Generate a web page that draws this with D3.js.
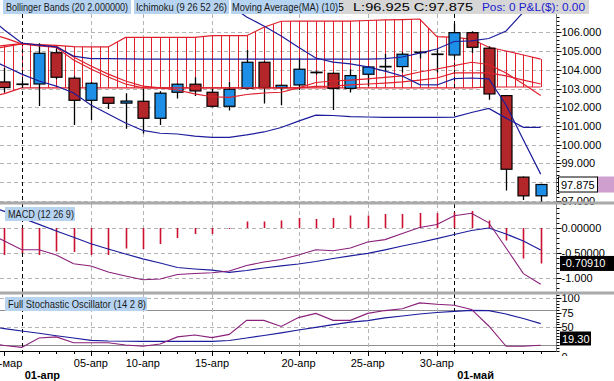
<!DOCTYPE html>
<html><head><meta charset="utf-8">
<script src="https://cdn.jsdelivr.net/npm/d3@7"></script>
<style>
html,body{margin:0;padding:0;background:#fff;overflow:hidden}
svg{display:block;font-family:"Liberation Sans",Arial,sans-serif}
</style></head><body>
<svg id="c" width="614" height="381"></svg>
<script>
// ---------- DATA ----------
const dates = ["28-мар","29-мар","01-апр","02-апр","03-апр","04-апр","05-апр","08-апр","09-апр","10-апр","11-апр","12-апр","14-апр","15-апр","16-апр","17-апр","18-апр","19-апр","20-апр","22-апр","23-апр","24-апр","25-апр","26-апр","28-апр","29-апр","30-апр","01-май","02-май","03-май","05-май","06-май","07-май"];
const openV  = [null,103.35,103.22,103.24,104.91,103.55,102.37,102.53,102.22,102.32,101.41,102.80,103.23,102.80,102.05,103.01,104.40,103.05,103.19,103.86,103.81,103.01,103.76,104.16,104.17,104.92,104.82,104.79,105.98,105.15,102.62,98.27,97.27];
const highV  = [null,104.10,103.40,105.41,105.15,103.65,103.35,102.55,102.75,103.00,102.85,103.25,103.60,103.00,103.35,105.05,104.45,103.20,104.61,103.93,103.85,104.03,104.20,104.84,104.93,105.00,105.10,106.45,106.05,105.25,102.65,98.30,97.92];
const lowV   = [null,102.80,103.05,102.07,103.50,101.05,101.32,101.90,100.85,100.60,101.05,102.46,102.60,102.00,101.82,102.95,102.20,102.10,102.92,103.75,101.85,102.78,103.14,103.90,103.86,104.60,103.85,104.70,104.90,102.40,97.55,97.05,96.925];
const closeV = [null,103.05,103.24,104.88,103.60,102.37,103.28,102.21,102.33,101.41,102.75,103.23,102.87,102.05,102.96,104.40,103.05,103.17,104.03,103.87,103.01,103.69,104.15,104.18,104.83,104.94,104.84,105.98,105.20,102.71,98.69,97.27,97.875];

const bbUpper = [106.92,106.12,105.43,105.32,105.22,104.73,104.60,104.60,104.58,104.57,104.57,104.57,104.57,104.57,104.57,104.57,104.57,104.57,104.57,104.57,104.57,104.57,104.57,104.60,104.68,104.89,105.11,105.51,105.54,105.67,106.07,107.08,107.99];
const bbLower = [104.63,104.20,103.77,103.40,103.13,102.76,102.12,101.64,101.16,100.76,100.61,100.57,100.46,100.39,100.39,100.52,100.68,100.92,101.26,101.58,101.56,101.50,101.48,101.46,101.46,101.46,101.46,101.47,101.72,101.94,101.42,100.93,100.93];
const maLine  = [null,null,null,null,null,null,null,null,null,null,null,null,null,null,107.46,106.82,106.34,105.80,105.20,104.63,104.41,104.31,104.15,103.93,103.67,103.21,103.19,103.53,103.56,103.51,102.12,100.25,98.43];
const spanA   = [105.22,105.30,105.40,105.35,105.30,105.24,105.22,105.22,105.73,105.73,105.73,105.73,105.73,105.82,105.82,105.82,106.27,106.59,106.60,106.60,106.60,106.60,106.63,106.66,106.68,106.71,105.77,105.73,105.64,105.20,105.00,104.79,104.57];
const spanB   = [102.49,102.73,103.03,103.03,103.03,103.03,103.03,103.03,103.03,103.03,103.03,103.03,103.03,103.03,103.03,103.03,103.03,103.03,103.03,103.03,103.03,103.03,103.03,103.03,103.03,103.03,103.03,103.03,103.03,103.08,103.08,103.08,103.08];
const tenkan  = [105.96,105.70,105.38,105.32,105.27,104.68,104.20,103.77,103.40,103.13,103.03,102.92,102.71,102.56,102.53,102.68,102.76,102.80,103.03,103.32,103.40,103.45,103.51,103.59,103.67,103.88,104.04,104.22,104.40,104.28,103.83,103.24,102.62];
const kijun   = [105.05,105.22,105.38,105.27,105.19,104.52,104.04,103.61,103.24,103.03,103.03,103.03,103.03,103.03,103.03,103.03,103.03,103.03,103.03,103.11,103.13,103.19,103.24,103.29,103.35,103.45,103.56,103.83,103.83,103.83,103.67,103.45,103.24];

const macdHist   = [null,-0.54,-0.50,-0.54,-0.47,-0.48,-0.54,-0.54,-0.41,-0.42,-0.32,-0.20,-0.12,-0.12,-0.02,0.13,0.13,0.15,0.20,0.18,0.20,0.25,0.25,0.28,0.28,0.30,0.30,0.31,0.34,0.15,-0.25,-0.61,-0.7091];
const macdLine   = [-0.10,-0.26,-0.436,-0.436,-0.54,-0.716,-0.76,-0.88,-0.96,-1.034,-1.02,-0.93,-0.91,-0.894,-0.86,-0.75,-0.68,-0.63,-0.54,-0.436,-0.456,-0.40,-0.28,-0.232,-0.11,0.01,0.07,0.244,0.294,0.104,-0.40,-0.912,-1.126];
const macdSignal = [0.46,0.332,0.202,0.072,-0.06,-0.186,-0.316,-0.42,-0.52,-0.618,-0.70,-0.79,-0.82,-0.844,-0.886,-0.85,-0.80,-0.756,-0.72,-0.67,-0.61,-0.556,-0.506,-0.436,-0.36,-0.29,-0.212,-0.13,-0.05,0.0,-0.12,-0.26,-0.44];

const stochK = [23.2,18.9,15.7,31.8,33.7,23.5,23.5,23.5,19.7,17.6,21.6,33.7,36.9,32.5,38.0,62.1,62.1,51.7,66.8,74.1,62.1,62.1,74.1,78.9,81.9,92.1,89.7,88.0,80.8,52.4,17.6,17.6,19.3];
const stochD = [52.1,47.9,43.8,39.9,35.7,31.8,27.7,26.6,26.2,26.0,26.0,26.0,26.0,26.0,27.5,31.8,36.1,40.7,45.5,50.2,54.8,59.2,61.5,66.5,69.6,73.0,75.6,77.7,79.1,78.9,73.0,65.3,56.5];

const tickDates  = ["29-мар","05-апр","10-апр","15-апр","20-апр","25-апр","30-апр"];
const monthDates = ["01-апр","01-май"];
const priceTicks = [97,98,99,100,101,102,103,104,105,106];
const priceLabels = ["97.000","","99.000","100.000","101.000","102.000","103.000","104.000","105.000","106.000"];
const macdTicks = [0,-0.5,-1];
const macdLabels = ["0.00000","-0.50000","-1.000"];
const stochTicks = [100,75,50,0];
const stochLabels = ["100","75","50","0"];
const stochDash = [100,50], stochLevels = [80,20];
const lastPrice = "97.875", lastMacd = "-0.70910", lastStoch = "19.30";

// ---------- SETUP ----------
const svg = d3.select("#c");
const W = 614, H = 381, plotR = 556.5;
const BLUE = "#1e8fe6", RED = "#b3262a", NAVY = "#1c1c9c", LRED = "#e0202c", PURP = "#8a1f7a", GRID = "#b4b4b4";

const x = d3.scalePoint().domain(dates).range([-12.9, 540.7]);
const step = x.step();
const yP = d3.scaleLinear().domain([97, 106]).range([200.9, 32.3]);
const yM = d3.scaleLinear().domain([0, -1]).range([228, 278]);
const yS = d3.scaleLinear().domain([0, 100]).range([356.5, 298.3]);

const panels = [
  {id:"pp", y0:14, y1:202},
  {id:"pm", y0:204, y1:292},
  {id:"ps", y0:294, y1:351}
];
const defs = svg.append("defs");
panels.forEach(p => defs.append("clipPath").attr("id", p.id)
  .append("rect").attr("x", 0).attr("y", p.y0).attr("width", plotR).attr("height", p.y1 - p.y0));
defs.append("clipPath").attr("id", "hclip").append("rect").attr("x", 339).attr("y", 0).attr("width", 10).attr("height", 14);
defs.append("clipPath").attr("id", "aclip").append("rect").attr("x", plotR).attr("y", 0).attr("width", 80).attr("height", 356);

svg.append("rect").attr("width", W).attr("height", H).attr("fill", "#fff");

function vgrid(g, y0, y1) {
  g.selectAll(null).data(tickDates.filter(d => d !== "29-мар")).join("line")
    .attr("x1", d => Math.round(x(d)) + 0.5).attr("x2", d => Math.round(x(d)) + 0.5).attr("y1", y0).attr("y2", y1)
    .attr("stroke", GRID).attr("stroke-dasharray", "4,3");
}
function mgrid(g, y0, y1) {
  g.selectAll(null).data(monthDates).join("line")
    .attr("x1", d => Math.round(x(d)) + 0.5).attr("x2", d => Math.round(x(d)) + 0.5).attr("y1", y0).attr("y2", y1)
    .attr("stroke", "#000").attr("stroke-dasharray", "4,3");
}
function hgrid(g, ticks, scale) {
  g.selectAll(null).data(ticks).join("line")
    .attr("x1", 0).attr("x2", plotR).attr("y1", d => Math.round(scale(d)) + 0.5).attr("y2", d => Math.round(scale(d)) + 0.5)
    .attr("stroke", GRID).attr("stroke-dasharray", "4,3");
}
const idx = dates.map((d, i) => i);

// ---------- PRICE PANEL ----------
const gp = svg.append("g").attr("clip-path", "url(#pp)");
hgrid(gp, priceTicks, yP);
vgrid(gp, 14, 202);

const half = [];
for (let i = 0; i < dates.length - 1; i++) {
  half.push({x: x(dates[i]), a: spanA[i], b: spanB[i]});
  half.push({x: x(dates[i]) + step / 2, a: (spanA[i] + spanA[i+1]) / 2, b: (spanB[i] + spanB[i+1]) / 2});
}
half.push({x: x(dates[dates.length-1]), a: spanA[dates.length-1], b: spanB[dates.length-1]});
gp.selectAll(null).data(half).join("line")
  .attr("x1", d => Math.round(d.x) + 0.5).attr("x2", d => Math.round(d.x) + 0.5)
  .attr("y1", d => yP(d.a)).attr("y2", d => yP(d.b))
  .attr("stroke", LRED).attr("stroke-width", 1);
const lineP = arr => d3.line().defined(i => arr[i] != null).x(i => x(dates[i])).y(i => yP(arr[i]));
[spanA, spanB].forEach(a => gp.append("path").attr("d", lineP(a)(idx)).attr("fill", "none").attr("stroke", LRED).attr("stroke-width", 1.2));
mgrid(gp, 14, 202);

const cand = idx.filter(i => openV[i] != null);
gp.selectAll(null).data(cand).join("line")
  .attr("x1", i => Math.round(x(dates[i])) + 0.5).attr("x2", i => Math.round(x(dates[i])) + 0.5)
  .attr("y1", i => yP(highV[i])).attr("y2", i => yP(lowV[i]))
  .attr("stroke", "#000").attr("stroke-width", 1.3);
gp.selectAll(null).data(cand).join("rect")
  .attr("x", i => Math.round(x(dates[i])) - 5)
  .attr("width", 11)
  .attr("y", i => yP(Math.max(openV[i], closeV[i])))
  .attr("height", i => Math.max(0.5, Math.abs(yP(openV[i]) - yP(closeV[i]))))
  .attr("fill", i => closeV[i] >= openV[i] ? BLUE : RED)
  .attr("stroke", "#000").attr("stroke-width", 1.2);

[[tenkan, LRED], [kijun, LRED]].forEach(([a, c]) =>
  gp.append("path").attr("d", lineP(a)(idx)).attr("fill", "none").attr("stroke", c).attr("stroke-width", 1.2));
[[bbUpper, NAVY], [bbLower, NAVY], [maLine, NAVY]].forEach(([a, c]) =>
  gp.append("path").attr("d", lineP(a)(idx)).attr("fill", "none").attr("stroke", c).attr("stroke-width", 1.2));

// ---------- MACD PANEL ----------
const gm = svg.append("g").attr("clip-path", "url(#pm)");
hgrid(gm, macdTicks, yM);
vgrid(gm, 204, 292);
mgrid(gm, 204, 292);
gm.selectAll(null).data(idx.filter(i => macdHist[i] != null)).join("line")
  .attr("x1", i => Math.round(x(dates[i])) + 0.5).attr("x2", i => Math.round(x(dates[i])) + 0.5)
  .attr("y1", yM(0)).attr("y2", i => yM(macdHist[i]))
  .attr("stroke", "#cc1030").attr("stroke-width", 1.6);
const lineM = arr => d3.line().x(i => x(dates[i])).y(i => yM(arr[i]));
gm.append("path").attr("d", lineM(macdSignal)(idx)).attr("fill", "none").attr("stroke", NAVY).attr("stroke-width", 1.2);
gm.append("path").attr("d", lineM(macdLine)(idx)).attr("fill", "none").attr("stroke", PURP).attr("stroke-width", 1.1);

// ---------- STOCH PANEL ----------
const gs = svg.append("g").attr("clip-path", "url(#ps)");
hgrid(gs, stochDash, yS);
stochLevels.forEach(v => gs.append("line").attr("x1", 0).attr("x2", plotR).attr("y1", Math.round(yS(v)) + 0.5).attr("y2", Math.round(yS(v)) + 0.5).attr("stroke", "#909090").attr("stroke-width", 1.2));
vgrid(gs, 294, 351);
mgrid(gs, 294, 351);
const lineS = arr => d3.line().x(i => x(dates[i])).y(i => yS(arr[i]));
gs.append("path").attr("d", lineS(stochD)(idx)).attr("fill", "none").attr("stroke", NAVY).attr("stroke-width", 1.2);
gs.append("path").attr("d", lineS(stochK)(idx)).attr("fill", "none").attr("stroke", PURP).attr("stroke-width", 1.1);

// ---------- RIGHT AXES ----------
const ax = svg.append("g").attr("font-size", 11).attr("fill", "#000").attr("clip-path", "url(#aclip)");
function rAxis(scale, ticks, labels, y0, y1, minorStep) {
  ax.append("line").attr("x1", plotR).attr("x2", plotR).attr("y1", y0).attr("y2", y1).attr("stroke", "#000");
  const vlo = scale.invert(y1), vhi = scale.invert(y0);
  const minors = d3.range(Math.ceil(Math.min(vlo, vhi) / minorStep) * minorStep, Math.max(vlo, vhi), minorStep);
  ax.selectAll(null).data(minors).join("line")
    .attr("x1", plotR).attr("x2", plotR + 3).attr("y1", d => Math.round(scale(d)) + 0.5).attr("y2", d => Math.round(scale(d)) + 0.5)
    .attr("stroke", "#000");
  ax.selectAll(null).data(ticks.filter(t => scale(t) <= y1)).join("line")
    .attr("x1", plotR).attr("x2", plotR + 5).attr("y1", d => Math.round(scale(d)) + 0.5).attr("y2", d => Math.round(scale(d)) + 0.5)
    .attr("stroke", "#000");
  ax.selectAll(null).data(ticks).join("text")
    .attr("x", plotR + 5).attr("y", d => scale(d) + 4).text((d, i) => labels[i]);
}
rAxis(yP, priceTicks, priceLabels, 14, 202, 0.2);
rAxis(yM, macdTicks, macdLabels, 204, 292, 0.1);
rAxis(yS, stochTicks, stochLabels, 294, 351, 5);

// ---------- PANEL SEPARATORS ----------
[203, 293].forEach(yy => svg.append("rect").attr("x", 0).attr("y", yy - 1.5).attr("width", W).attr("height", 3).attr("fill", "#a9a9a9"));

// value boxes
const pb = svg.append("g");
pb.append("rect").attr("x", 597).attr("y", yP(97.875) - 8).attr("width", 17).attr("height", 16).attr("fill", "#cfa0cf");
pb.append("rect").attr("x", 558.5).attr("y", yP(97.875) - 7.5).attr("width", 39).attr("height", 15).attr("fill", "#fff").attr("stroke", "#000");
pb.append("text").attr("x", 561).attr("y", yP(97.875) + 4).attr("font-size", 11).text(lastPrice);
pb.append("rect").attr("x", 560).attr("y", yM(-0.7091) - 7.5).attr("width", 54).attr("height", 15).attr("fill", "#000");
pb.append("text").attr("x", 562).attr("y", yM(-0.7091) + 4).attr("font-size", 11).attr("fill", "#fff").text(lastMacd);
pb.append("rect").attr("x", 560).attr("y", 331.5).attr("width", 31).attr("height", 14).attr("fill", "#000");
pb.append("text").attr("x", 562).attr("y", 342.5).attr("font-size", 11).attr("fill", "#fff").text(lastStoch);

// ---------- X AXIS ----------
const xa = svg.append("g").attr("font-size", 11);
xa.append("line").attr("x1", 0).attr("x2", plotR).attr("y1", 351.5).attr("y2", 351.5).attr("stroke", "#000");
xa.selectAll(null).data(dates).join("line")
  .attr("x1", d => Math.round(x(d)) + 0.5).attr("x2", d => Math.round(x(d)) + 0.5).attr("y1", 351).attr("y2", 354).attr("stroke", "#000");
xa.selectAll(null).data(tickDates).join("line")
  .attr("x1", d => Math.round(x(d)) + 0.5).attr("x2", d => Math.round(x(d)) + 0.5).attr("y1", 351).attr("y2", 356).attr("stroke", "#000");
xa.selectAll(null).data(tickDates).join("text")
  .attr("x", d => x(d)).attr("y", 367).attr("text-anchor", "middle").text(d => d);
xa.selectAll(null).data(monthDates).join("text")
  .attr("x", d => x(d) + 3).attr("y", 379).attr("font-weight", "bold").text(d => d);

// ---------- LABELS ----------
const hd = svg.append("g").attr("font-size", 10);
hd.append("rect").attr("x", 339).attr("y", 0).attr("width", 250).attr("height", 14).attr("fill", "#d6d6d6");
hd.append("text").attr("x", 344).attr("y", 11).attr("font-size", 11).attr("text-anchor", "end").attr("clip-path", "url(#hclip)").text("H:97.925");
hd.append("text").attr("x", 353).attr("y", 11).attr("textLength", 120).attr("lengthAdjust", "spacingAndGlyphs").text("L:96.925  C:97.875");
hd.append("text").attr("x", 482).attr("y", 11).attr("fill", "#1a1ad0").attr("textLength", 103).attr("lengthAdjust", "spacingAndGlyphs").text("Pos: 0 P&L($): 0.00");
const boxes = [
  {x: 3, w: 128, tx: 6, tw: 122, t: "Bollinger Bands (20 2.000000)", y: 0},
  {x: 134, w: 95, tx: 136, tw: 91, t: "Ichimoku (9 26 52 26)", y: 0},
  {x: 231, w: 108, tx: 232, tw: 106, t: "Moving Average(MA) (10)", y: 0},
  {x: 5, w: 70, tx: 8, tw: 66, t: "MACD (12 26 9)", y: 207},
  {x: 5, w: 142, tx: 8, tw: 138, t: "Full Stochastic Oscillator (14 2 8)", y: 297}
];
boxes.forEach(b => {
  hd.append("rect").attr("x", b.x).attr("y", b.y).attr("width", b.w).attr("height", 14).attr("fill", "#b6d4f2");
  hd.append("text").attr("x", b.tx).attr("y", b.y + 11).attr("fill", "#1a1a1a")
    .attr("textLength", b.tw).attr("lengthAdjust", "spacingAndGlyphs").text(b.t);
});
</script>
</body></html>
